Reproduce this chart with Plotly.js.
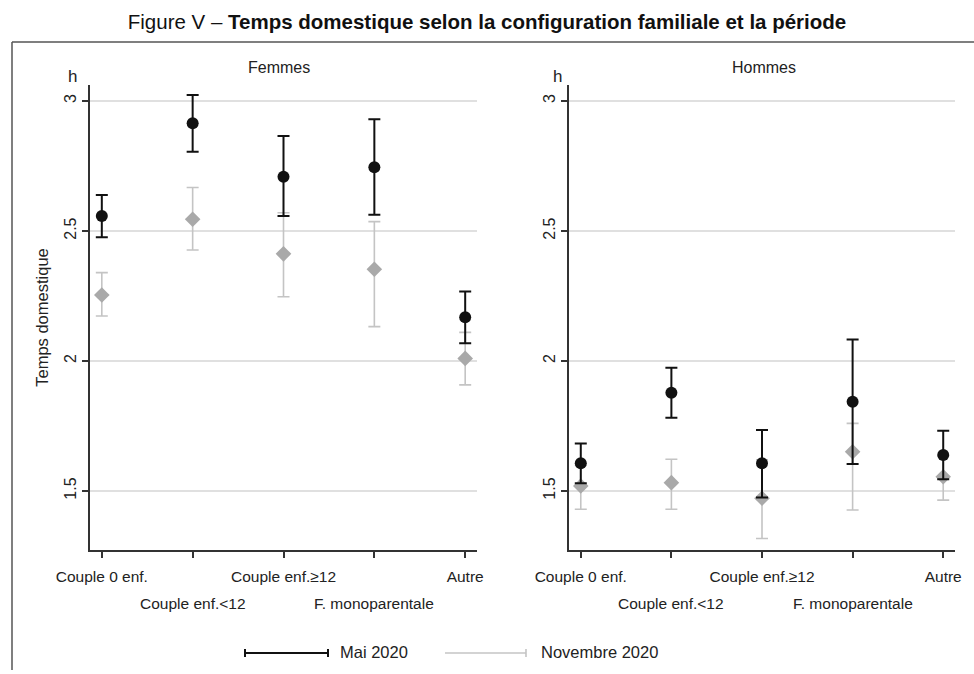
<!DOCTYPE html>
<html>
<head>
<meta charset="utf-8">
<script src="https://cdn.plot.ly/plotly-3.0.1.min.js"></script>
<style>html,body{margin:0;padding:0;background:#fff;}#chart{width:974px;height:674px;}</style>
</head>
<body>
<div id="chart"></div>
<script>
// ---- Data ----
const categories = ["Couple 0 enf.", "Couple enf.<12", "Couple enf.≥12", "F. monoparentale", "Autre"];

const femmesMai     = [2.558, 2.914, 2.709, 2.745, 2.168];
const femmesMaiLow  = [2.476, 2.805, 2.558, 2.562, 2.068];
const femmesMaiHigh = [2.638, 3.023, 2.865, 2.930, 2.267];
const femmesNov     = [2.254, 2.545, 2.412, 2.353, 2.010];
const femmesNovLow  = [2.173, 2.427, 2.247, 2.132, 1.908];
const femmesNovHigh = [2.340, 2.667, 2.570, 2.536, 2.110];

const hommesMai     = [1.607, 1.878, 1.607, 1.843, 1.638];
const hommesMaiLow  = [1.530, 1.782, 1.475, 1.604, 1.545];
const hommesMaiHigh = [1.683, 1.974, 1.735, 2.083, 1.732];
const hommesNov     = [1.519, 1.532, 1.472, 1.651, 1.555];
const hommesNovLow  = [1.430, 1.430, 1.317, 1.427, 1.465];
const hommesNovHigh = [1.600, 1.622, 1.620, 1.760, 1.635];

const yTickVals = [1.5, 2, 2.5, 3];
const yTickText = ["1.5", "2", "2.5", "3"];
const seriesNames = ["Mai 2020", "Novembre 2020"];
const panelNames = ["Femmes", "Hommes"];

// ---- Styling ----
const FONT = "Liberation Sans, Arial, sans-serif";
const MAI_COLOR = "#111111";
const NOV_MARKER = "#a9a9a9";
const NOV_BAR = "#c4c4c4";
const AXIS_COLOR = "#333333";
const TXT = "#222222";

const idx = categories.map((_, i) => i);
const htmlEsc = s => s.replace(/</g, "&lt;");

function trace(vals, lo, hi, xa, ya, isMai) {
  return {
    type: "scatter", mode: "markers",
    x: idx, y: vals, xaxis: xa, yaxis: ya,
    showlegend: false, hoverinfo: "skip",
    marker: isMai ? {symbol: "circle", size: 12, color: MAI_COLOR}
                  : {symbol: "diamond", size: 12, color: NOV_MARKER},
    error_y: {
      type: "data", symmetric: false,
      array: hi.map((h, i) => h - vals[i]),
      arrayminus: lo.map((l, i) => vals[i] - l),
      color: isMai ? MAI_COLOR : NOV_BAR,
      thickness: isMai ? 2 : 1.6,
      width: 6
    }
  };
}

const data = [
  trace(femmesNov, femmesNovLow, femmesNovHigh, "x", "y", false),
  trace(femmesMai, femmesMaiLow, femmesMaiHigh, "x", "y", true),
  trace(hommesNov, hommesNovLow, hommesNovHigh, "x2", "y2", false),
  trace(hommesMai, hommesMaiLow, hommesMaiHigh, "x2", "y2", true)
];

const W = 974, H = 674;
const px = v => v / W;
const py = v => 1 - v / H;

function xaxisDef(domain, anchor) {
  return {
    domain: domain, anchor: anchor, range: [-0.13, 4.13],
    tickmode: "array", tickvals: idx,
    ticktext: categories.map((c, i) => i % 2 === 0 ? htmlEsc(c) : ""),
    ticks: "outside", ticklen: 6, tickwidth: 2, tickcolor: AXIS_COLOR,
    ticklabelstandoff: 5,
    showline: true, linewidth: 2, linecolor: AXIS_COLOR,
    showgrid: false, zeroline: false, automargin: false, fixedrange: true,
    tickfont: {family: FONT, size: 15.5, color: TXT}
  };
}
function yaxisDef(domain, anchor, withTitle) {
  const a = {
    domain: domain, anchor: anchor, range: [1.273, 3.0615],
    tickmode: "array", tickvals: yTickVals, ticktext: yTickText, tickangle: -90,
    ticks: "outside", ticklen: 6, tickwidth: 2, tickcolor: AXIS_COLOR,
    showline: true, linewidth: 2, linecolor: AXIS_COLOR,
    showgrid: true, gridcolor: "#e0e0e0", gridwidth: 2,
    zeroline: false, automargin: false, fixedrange: true,
    tickfont: {family: FONT, size: 16, color: TXT}
  };
  if (withTitle) a.title = {text: "Temps domestique", font: {family: FONT, size: 16.5, color: TXT}, standoff: 9};
  return a;
}

const yDom = [1 - 550 / H, 1 - 85 / H];
const leftX = [px(90), px(477)];
const rightX = [px(569), px(955)];

const annotations = [];
// odd category labels on the second row
["x", "x2"].forEach(xa => {
  categories.forEach((c, i) => {
    if (i % 2 === 1) annotations.push({
      xref: xa, yref: "paper", x: i, y: py(603), xanchor: "center", yanchor: "middle",
      text: htmlEsc(c), showarrow: false, font: {family: FONT, size: 15.5, color: TXT}
    });
  });
});
// panel titles
annotations.push({xref: "paper", yref: "paper", x: px(279), y: py(67), text: panelNames[0], showarrow: false,
  xanchor: "center", yanchor: "middle", font: {family: FONT, size: 16, color: TXT}});
annotations.push({xref: "paper", yref: "paper", x: px(764), y: py(67), text: panelNames[1], showarrow: false,
  xanchor: "center", yanchor: "middle", font: {family: FONT, size: 16, color: TXT}});
// unit labels
annotations.push({xref: "paper", yref: "paper", x: px(72), y: py(76), text: "h", showarrow: false,
  xanchor: "center", yanchor: "middle", font: {family: FONT, size: 17, color: TXT}});
annotations.push({xref: "paper", yref: "paper", x: px(557), y: py(76), text: "h", showarrow: false,
  xanchor: "center", yanchor: "middle", font: {family: FONT, size: 17, color: TXT}});
// legend labels
annotations.push({xref: "paper", yref: "paper", x: px(338), y: py(652), text: seriesNames[0], showarrow: false,
  xanchor: "left", yanchor: "middle", font: {family: FONT, size: 16.5, color: TXT}});
annotations.push({xref: "paper", yref: "paper", x: px(539), y: py(652), text: seriesNames[1], showarrow: false,
  xanchor: "left", yanchor: "middle", font: {family: FONT, size: 16.5, color: TXT}});

const shapes = [
  // frame
  {type: "line", xref: "paper", yref: "paper", x0: px(12), x1: 1, y0: py(42), y1: py(42), line: {color: "#555", width: 1.5}},
  {type: "line", xref: "paper", yref: "paper", x0: px(12), x1: px(12), y0: py(42), y1: py(670), line: {color: "#555", width: 1.5}},
  // legend Mai
  {type: "line", xref: "paper", yref: "paper", x0: px(245), x1: px(328), y0: py(653), y1: py(653), line: {color: MAI_COLOR, width: 2}},
  {type: "line", xref: "paper", yref: "paper", x0: px(245), x1: px(245), y0: py(649), y1: py(657), line: {color: MAI_COLOR, width: 2}},
  {type: "line", xref: "paper", yref: "paper", x0: px(328), x1: px(328), y0: py(649), y1: py(657), line: {color: MAI_COLOR, width: 2}},
  // legend Novembre
  {type: "line", xref: "paper", yref: "paper", x0: px(445), x1: px(526), y0: py(653), y1: py(653), line: {color: NOV_BAR, width: 1.6}},
  {type: "line", xref: "paper", yref: "paper", x0: px(526), x1: px(526), y0: py(649), y1: py(657), line: {color: NOV_BAR, width: 1.6}}
];

const layout = {
  width: W, height: H,
  margin: {l: 0, r: 0, t: 0, b: 0, pad: 0},
  paper_bgcolor: "#ffffff", plot_bgcolor: "#ffffff",
  showlegend: false,
  font: {family: FONT, color: TXT},
  title: {
    text: "Figure V – <b>Temps domestique selon la configuration familiale et la période</b>",
    x: 0.5, xanchor: "center", xref: "paper", y: py(22), yanchor: "middle", yref: "container",
    font: {family: FONT, size: 20.5, color: "#111"}
  },
  xaxis: xaxisDef(leftX, "y"),
  yaxis: yaxisDef(yDom, "x", true),
  xaxis2: xaxisDef(rightX, "y2"),
  yaxis2: yaxisDef(yDom, "x2", false),
  annotations: annotations,
  shapes: shapes
};

Plotly.newPlot("chart", data, layout, {displayModeBar: false, staticPlot: true});
</script>
</body>
</html>
